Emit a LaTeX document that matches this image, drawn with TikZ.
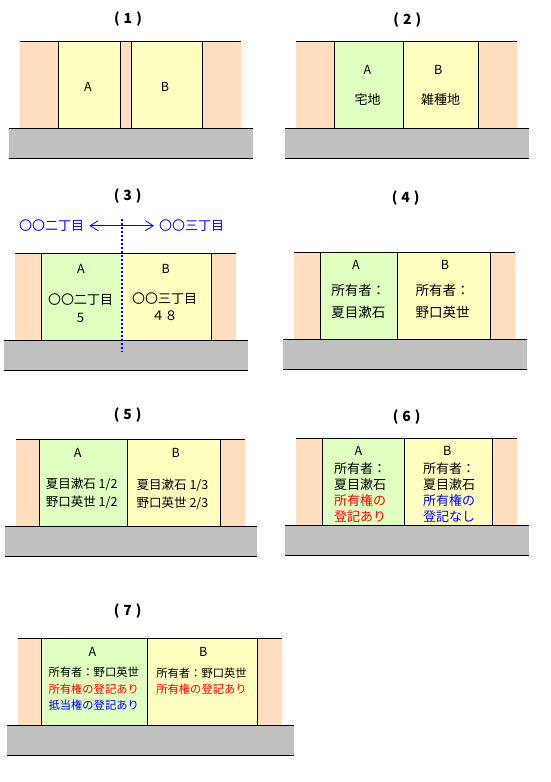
\documentclass[tikz,border=0pt]{standalone}
\usepackage{fontspec}
\newfontfamily\jp{Noto Sans CJK JP}
\usepackage{xcolor}
\usepackage{tikz}
\usetikzlibrary{arrows.meta}
\definecolor{peach}{RGB}{255,222,192}
\definecolor{lotyellow}{RGB}{255,255,192}
\definecolor{lotgreen}{RGB}{224,255,192}
\definecolor{roadgray}{RGB}{192,192,192}
\newcommand\num[1]{(\hspace{4pt}#1\hspace{4pt})}
\tikzset{
    edge/.style = {draw=black, line width=1pt},
    side/.style = {fill=peach},
    yel/.style = {edge, fill=lotyellow},
    grn/.style = {edge, fill=lotgreen},
    road/.style = {fill=roadgray},
    tnode/.style = {inner sep=0pt, align=center},
    title/.style = {tnode, font=\jp\bfseries\fontsize{14}{14}\selectfont},
    lbl/.style = {tnode, font=\jp\fontsize{12.5}{12.5}\selectfont},
    txt/.style 2 args = {tnode, font=\jp\fontsize{#1}{#2}\selectfont},
    bound/.style = {draw=blue, line width=2pt, dash pattern=on 2pt off 2pt},
    town/.style = {txt={13}{13}, text=blue}
}
\begin{document}
\begin{tikzpicture}[x=1pt, y=-1pt]
\useasboundingbox (0,0) rectangle (550,782);

\fill[side] (20,41.5) rectangle (241,128);
\path[yel] (58,41.5) rectangle (120.3,128);
\path[yel] (131.3,41.5) rectangle (202.3,128);
\draw[edge] (20,41.5) -- (241,41.5);
\fill[road] (9,128) rectangle (252.7,158);
\draw[edge] (9,128) -- (252.7,128) (9,158) -- (252.7,158);
\node[title] (t1) at (128,19.3) {\num{1}};
\node[lbl] (a1) at (88,87) {A};
\node[lbl] (b1) at (165,87) {B};

\fill[side] (295.7,41.3) rectangle (516.7,128);
\path[grn] (334.3,41.3) rectangle (403.3,128);
\path[yel] (403.3,41.3) rectangle (478.3,128);
\draw[edge] (295.7,41.3) -- (516.7,41.3);
\fill[road] (285,128) rectangle (529,158);
\draw[edge] (285,128) -- (529,128) (285,158) -- (529,158);
\node[title] (t2) at (407.3,19.7) {\num{2}};
\node[lbl] (a2) at (367.3,70) {A};
\node[txt={13}{13}] (a2t) at (367.7,99.3) {宅地};
\node[lbl] (b2) at (438.3,70) {B};
\node[txt={13}{13}] (b2t) at (440.7,99.3) {雑種地};

\fill[side] (15,253.3) rectangle (236,340.3);
\fill[lotgreen] (41.3,253.3) rectangle (122.3,340.3);
\fill[lotyellow] (122.3,253.3) rectangle (211.3,340.3);
\draw[edge] (41.3,253.3) -- (41.3,340.3) (211.3,253.3) -- (211.3,340.3);
\draw[edge] (15,253.3) -- (236,253.3);
\fill[road] (4,340.3) rectangle (247.7,370.3);
\draw[edge] (4,340.3) -- (247.7,340.3) (4,370.3) -- (247.7,370.3);
\draw[bound] (122.3,219.3) -- (122.3,351.7);
\node[title] (t3) at (127.7,195.7) {\num{3}};
\node[town] (w3) at (51.7,225.7) {〇〇二丁目};
\node[town] (e3) at (191.7,225.7) {〇〇三丁目};
\draw[blue, line width=0.8pt, {Straight Barb[length=8pt,width=10pt]}-{Straight Barb[length=8pt,width=10pt]}]
    ([xshift=5pt]w3.east) -- ([xshift=-5pt]e3.west);
\node[lbl] (a3) at (81,269.3) {A};
\node[txt={13}{17.7}] (a3t) at (80.5,307.9) {〇〇二丁目\\5};
\node[lbl] (b3) at (165.7,269.3) {B};
\node[txt={13}{17.7}] (b3t) at (164.5,306.7) {〇〇三丁目\\４８};

\fill[side] (294,252.3) rectangle (514.7,339.3);
\path[grn] (320.3,252.3) rectangle (397.3,339.3);
\path[yel] (397.3,252.3) rectangle (490.7,339.3);
\draw[edge] (294,252.3) -- (514.7,252.3);
\fill[road] (283,339.3) rectangle (526.7,369.3);
\draw[edge] (283,339.3) -- (526.7,339.3) (283,369.3) -- (526.7,369.3);
\node[title] (t4) at (405.7,197.7) {\num{4}};
\node[lbl] (a4) at (356,265) {A};
\node[txt={13.5}{22}] (a4t) at (358.3,301.7) {所有者：\\夏目漱石};
\node[lbl] (b4) at (445,265) {B};
\node[txt={13.5}{22}] (b4t) at (442.5,301.7) {所有者：\\野口英世};

\fill[side] (16,439.3) rectangle (245,526.3);
\path[grn] (39.3,439.3) rectangle (127.7,526.3);
\path[yel] (127.7,439.3) rectangle (220.7,526.3);
\draw[edge] (16,439.3) -- (245,439.3);
\fill[road] (5,526.3) rectangle (256.7,556);
\draw[edge] (5,526.3) -- (256.7,526.3) (5,556) -- (256.7,556);
\node[title] (t5) at (127.7,415) {\num{5}};
\node[lbl] (a5) at (77.7,453.3) {A};
\node[txt={12.5}{18.3}] (a5t) at (81.7,493.2) {夏目漱石 1/2\\野口英世 1/2};
\node[lbl] (b5) at (175.7,453.3) {B};
\node[txt={12.5}{18.3}] (b5t) at (172.5,494.2) {夏目漱石 1/3\\野口英世 2/3};

\fill[side] (295.7,438.7) rectangle (516.7,525.3);
\path[grn] (322.7,438.7) rectangle (404.3,525.3);
\path[yel] (404.3,438.7) rectangle (492.7,525.3);
\draw[edge] (295.7,438.7) -- (516.7,438.7);
\fill[road] (285,525.3) rectangle (529,555.3);
\draw[edge] (285,525.3) -- (529,525.3) (285,555.3) -- (529,555.3);
\node[title] (t6) at (406.7,416.7) {\num{6}};
\node[lbl] (a6) at (358.3,450.7) {A};
\node[txt={13}{16.1}] (a6t) at (360,492.3) {所有者：\\夏目漱石\\\textcolor{red}{所有権の}\\\textcolor{red}{登記あり}};
\node[lbl] (b6) at (447.3,450.7) {B};
\node[txt={13}{16.1}] (b6t) at (449,492.3) {所有者：\\夏目漱石\\\textcolor{blue}{所有権の}\\\textcolor{blue}{登記なし}};

\fill[side] (18.3,638.3) rectangle (281.7,725.3);
\path[grn] (41.3,638.3) rectangle (147.7,725.3);
\path[yel] (147.7,638.3) rectangle (257.7,725.3);
\draw[edge] (18.3,638.3) -- (281.7,638.3);
\fill[road] (7.3,725.3) rectangle (294,755);
\draw[edge] (7.3,725.3) -- (294,725.3) (7.3,755) -- (294,755);
\node[title] (t7) at (127.7,610.7) {\num{7}};
\node[lbl] (a7) at (92.3,651.7) {A};
\node[txt={11.3}{16.2}] (a7t) at (93.7,688.9) {所有者：野口英世\\\textcolor{red}{所有権の登記あり}\\\textcolor{blue}{抵当権の登記あり}};
\node[lbl] (b7) at (203.3,651.7) {B};
\node[txt={11.3}{16.2}] (b7t) at (201.5,680.9) {所有者：野口英世\\\textcolor{red}{所有権の登記あり}};
\end{tikzpicture}
\end{document}
